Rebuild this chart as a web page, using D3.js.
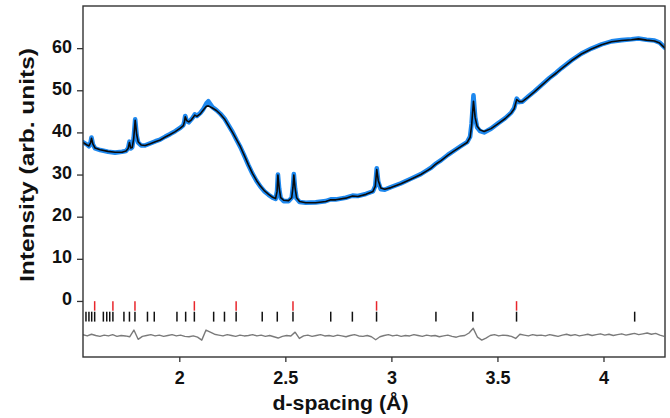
<!DOCTYPE html>
<html><head><meta charset="utf-8">
<script src="https://cdn.jsdelivr.net/npm/d3@7/dist/d3.min.js"></script>
<style>
html,body{margin:0;padding:0;background:#fff;}
svg{display:block;font-family:"Liberation Sans",Arial,sans-serif;font-weight:bold;}
</style></head>
<body><svg id="c" width="670" height="418"></svg>
<script>
// ---- data ----
const dGrid = [1.546,1.565,1.574,1.582,1.586,1.593,1.603,1.627,1.664,1.697,1.730,1.749,1.759,1.765,1.771,1.778,1.785,1.792,1.799,1.806,1.820,1.839,1.863,1.887,1.910,1.934,1.957,1.981,2.005,2.019,2.024,2.028,2.035,2.045,2.057,2.066,2.073,2.083,2.099,2.113,2.128,2.137,2.156,2.175,2.194,2.213,2.232,2.251,2.270,2.288,2.307,2.326,2.345,2.364,2.383,2.402,2.421,2.440,2.454,2.461,2.465,2.471,2.478,2.492,2.515,2.530,2.536,2.540,2.546,2.553,2.567,2.596,2.643,2.690,2.714,2.738,2.785,2.817,2.842,2.880,2.913,2.924,2.931,2.938,2.950,2.969,2.998,3.045,3.092,3.139,3.171,3.187,3.205,3.210,3.234,3.267,3.296,3.329,3.357,3.371,3.378,3.387,3.395,3.404,3.418,3.437,3.470,3.504,3.537,3.565,3.579,3.591,3.603,3.617,3.645,3.674,3.707,3.745,3.778,3.801,3.849,3.896,3.943,3.991,4.038,4.085,4.132,4.165,4.203,4.241,4.265,4.290];
const calcValues = [37.6,37.0,36.8,37.6,38.6,37.2,36.3,35.9,35.5,35.3,35.3,35.6,36.2,37.6,36.3,36.4,38.5,42.9,39.5,37.8,37.0,36.9,37.3,37.8,38.2,38.9,39.5,40.2,41.0,41.6,42.5,43.7,42.8,42.5,43.0,43.6,44.1,43.8,44.4,45.3,46.2,46.3,45.8,45.2,44.3,43.2,41.6,40.0,38.3,36.6,34.5,32.3,30.3,28.6,27.2,26.1,25.3,24.6,24.3,26.0,29.9,26.8,24.5,23.9,23.8,24.5,27.0,29.9,26.8,24.5,23.6,23.3,23.3,23.6,24.0,24.0,24.4,24.9,24.8,25.3,26.0,27.2,31.2,28.6,26.8,26.5,26.9,27.8,28.9,30.0,31.0,31.5,32.3,32.5,33.3,34.6,35.6,36.7,37.6,38.8,41.5,47.4,43.5,41.5,40.6,40.2,40.9,42.1,43.3,44.6,45.6,47.8,47.3,47.3,48.4,49.6,51.1,52.8,54.1,55.1,57.0,58.6,59.8,60.8,61.5,61.8,62.0,62.2,61.9,61.7,61.2,60.0];
const obsValues = [37.7,37.1,36.7,37.7,38.8,37.1,36.2,35.8,35.4,35.2,35.4,35.6,36.3,37.8,36.2,36.5,38.7,43.1,39.3,37.6,36.9,36.9,37.4,37.9,38.3,39.0,39.6,40.3,41.1,41.7,42.6,43.9,42.7,42.4,43.1,43.7,44.3,43.9,44.6,45.5,46.9,47.4,46.0,45.3,44.4,43.3,41.7,40.1,38.2,36.5,34.4,32.2,30.2,28.5,27.1,26.0,25.2,24.5,24.2,26.1,30.0,26.6,24.4,23.7,23.7,24.5,27.2,30.1,26.6,24.3,23.5,23.3,23.4,23.7,24.1,24.1,24.5,25.0,24.9,25.4,26.0,27.3,31.5,28.3,26.5,26.4,27.0,27.9,29.0,30.1,31.1,31.6,32.4,32.6,33.4,34.7,35.7,36.8,37.7,39.0,42.0,48.8,43.6,41.2,40.3,40.0,40.9,42.2,43.4,44.7,45.8,48.0,47.2,47.3,48.5,49.7,51.2,52.9,54.2,55.2,57.1,58.7,59.9,60.9,61.6,61.9,62.1,62.3,62.0,61.8,61.3,60.1];
const diffStart = 1.546, diffStep = 0.02;
const diffValues = [-8.0,-8.3,-7.9,-8.2,-8.4,-8.1,-8.3,-8.0,-8.4,-8.2,
-8.3,-8.5,-6.9,-9.1,-8.4,-8.2,-8.0,-8.3,-8.1,-8.4,
-8.2,-8.0,-8.3,-8.1,-8.4,-8.5,-8.3,-8.6,-9.3,-6.9,
-7.4,-7.9,-8.1,-8.3,-8.0,-8.2,-8.4,-8.1,-8.3,-8.2,
-8.0,-8.3,-8.1,-8.4,-8.2,-8.5,-8.8,-8.4,-8.2,-8.3,
-7.4,-8.9,-8.3,-8.1,-8.4,-8.2,-8.0,-8.3,-8.2,-8.4,
-8.1,-8.3,-8.5,-8.2,-8.0,-8.3,-8.4,-8.2,-8.5,-9.2,
-8.5,-8.2,-8.0,-8.3,-8.1,-8.4,-8.2,-8.3,-8.0,-8.2,
-8.4,-8.1,-8.3,-8.2,-8.5,-8.3,-8.1,-8.4,-8.6,-8.3,
-8.2,-7.6,-6.5,-8.6,-9.3,-8.8,-8.2,-8.0,-8.3,-8.1,
-8.2,-8.4,-8.9,-7.9,-8.1,-8.3,-8.0,-8.2,-8.1,-8.3,
-8.0,-8.2,-8.4,-8.1,-7.9,-8.2,-8.0,-8.3,-8.1,-7.9,
-8.2,-8.0,-7.8,-8.1,-7.9,-8.2,-8.0,-7.8,-8.1,-7.9,
-7.7,-8.0,-7.8,-7.6,-7.9,-7.7,-8.1,-8.4];
const redTicks = [1.601,1.687,1.791,2.071,2.268,2.536,2.930,3.590];
const blackTicks = [1.560,1.574,1.587,1.601,1.642,1.658,1.672,1.687,1.739,1.765,1.791,1.850,1.882,1.989,2.030,2.071,2.162,2.213,2.268,2.391,2.462,2.536,2.714,2.816,2.930,3.210,3.384,3.590,4.147];
const xTickValues = [2,2.5,3,3.5,4];
const yTickValues = [0,10,20,30,40,50,60];
const xLabel = "d-spacing (Å)";
const yLabel = "Intensity (arb. units)";

// ---- layout ----
const svg = d3.select("#c");
const L = 83, R = 665, T = 6, B = 357;
const x = d3.scaleLinear().domain([1.546, 4.29]).range([L, R]);
const y = d3.scaleLinear().domain([-13.3, 70]).range([B, T]);

svg.append("clipPath").attr("id","clp").append("rect")
  .attr("x",L).attr("y",T).attr("width",R-L).attr("height",B-T);
const g = svg.append("g").attr("clip-path","url(#clp)");

const obs = dGrid.map((d,i)=>[d, obsValues[i]]);
const calc = dGrid.map((d,i)=>[d, calcValues[i]]);
const line = d3.line().x(p=>x(p[0])).y(p=>y(p[1]));
g.append("path").attr("d", line(obs)).attr("fill","none")
  .attr("stroke","#1e88ee").attr("stroke-width",4.6).attr("stroke-linejoin","round").attr("stroke-linecap","round");
g.append("path").attr("d", line(calc)).attr("fill","none")
  .attr("stroke","#0a0a0a").attr("stroke-width",1.6).attr("stroke-linejoin","round");

const diff = diffValues.map((v,i)=>[diffStart + i*diffStep, v]);
g.append("path").attr("d", line(diff)).attr("fill","none")
  .attr("stroke","#7a7a7a").attr("stroke-width",1.4).attr("stroke-linejoin","round");

g.selectAll("line.red").data(redTicks).enter().append("line")
  .attr("x1",d=>x(d)).attr("x2",d=>x(d)).attr("y1",y(-0.05)).attr("y2",y(-2.3))
  .attr("stroke","#e8262c").attr("stroke-width",1.5);
g.selectAll("line.blk").data(blackTicks).enter().append("line")
  .attr("x1",d=>x(d)).attr("x2",d=>x(d)).attr("y1",y(-2.55)).attr("y2",y(-4.9))
  .attr("stroke","#111").attr("stroke-width",1.5);

svg.append("rect").attr("x",L).attr("y",T).attr("width",R-L).attr("height",B-T)
  .attr("fill","none").attr("stroke","#333").attr("stroke-width",1.4);

const xAxis = svg.append("g").attr("transform",`translate(0,${B})`)
  .call(d3.axisBottom(x).tickValues(xTickValues).tickSize(5).tickPadding(9).tickFormat(d3.format("")));
xAxis.select(".domain").remove();
xAxis.selectAll("line").attr("stroke","#333").attr("stroke-width",1.3);
xAxis.selectAll("text").attr("font-size",18).attr("font-weight","bold").attr("fill","#111")
  .attr("font-family","'Liberation Sans',Arial,sans-serif");

const yAxis = svg.append("g").attr("transform",`translate(${L},0)`)
  .call(d3.axisLeft(y).tickValues(yTickValues).tickSize(6).tickPadding(5));
yAxis.select(".domain").remove();
yAxis.selectAll("line").attr("stroke","#333").attr("stroke-width",1.3);
yAxis.selectAll("text").attr("font-size",18).attr("font-weight","bold").attr("fill","#111")
  .attr("font-family","'Liberation Sans',Arial,sans-serif").attr("dy","0.22em");

svg.append("text").attr("x",340.5).attr("y",410).attr("text-anchor","middle")
  .attr("font-size",20).attr("fill","#111").attr("textLength",136).attr("lengthAdjust","spacingAndGlyphs")
  .text(xLabel);
svg.append("text").attr("transform","translate(34,165) rotate(-90)").attr("text-anchor","middle")
  .attr("font-size",21).attr("fill","#111").attr("textLength",234).attr("lengthAdjust","spacingAndGlyphs")
  .text(yLabel);
</script></body></html>
